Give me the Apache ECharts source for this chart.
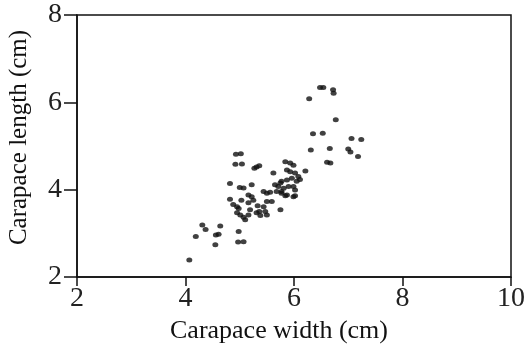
<!DOCTYPE html>
<html>
<head>
<meta charset="utf-8">
<script src="https://cdn.jsdelivr.net/npm/echarts@6/dist/echarts.min.js"></script>
<style>
  html, body { margin: 0; padding: 0; background: #fff; }
  #chart { width: 524px; height: 345px; }
</style>
</head>
<body>
<div id="chart"></div>
<script>
// carapace width / length pairs
const widths = [
  4.07, 4.19, 4.31, 4.37, 4.56, 4.61, 4.55, 4.64, 4.98, 4.97,
  5.07, 4.93, 5.02, 4.92, 5.04, 5.27, 5.31, 5.36, 4.82, 5.00,
  5.07, 5.22, 4.82, 4.88, 4.95, 4.98, 5.03, 5.16, 5.22, 4.95,
  5.01, 5.07, 5.10, 5.16, 5.25, 5.19, 5.16, 5.31, 5.36, 5.38,
  5.33, 5.44, 5.50, 5.56, 5.50, 5.59, 5.44, 5.47, 5.50, 5.75,
  5.62, 5.65, 5.75, 5.68, 5.77, 5.84, 5.93, 5.99, 5.87, 5.93,
  5.87, 5.96, 5.81, 5.90, 5.87, 5.99, 6.02, 6.08, 6.11, 6.05,
  6.21, 5.71, 5.99, 6.02, 5.77, 5.84, 6.02, 5.77, 6.28, 6.48,
  6.54, 6.72, 6.73, 6.77, 6.35, 6.53, 6.31, 6.66, 6.61, 6.67,
  7.06, 7.24, 7.00, 7.04, 7.18
]
const lengths = [
  2.39, 2.93, 3.19, 3.09, 2.96, 2.98, 2.74, 3.17, 3.04, 2.80,
  2.81, 4.81, 4.82, 4.58, 4.59, 4.49, 4.52, 4.55, 4.14, 4.05,
  4.04, 4.11, 3.78, 3.66, 3.61, 3.57, 3.76, 3.88, 3.84, 3.47,
  3.42, 3.37, 3.31, 3.70, 3.76, 3.54, 3.42, 3.47, 3.50, 3.41,
  3.63, 3.96, 3.92, 3.94, 3.73, 3.73, 3.61, 3.50, 3.42, 3.54,
  4.38, 4.11, 4.15, 3.96, 3.96, 4.64, 4.61, 4.56, 4.45, 4.41,
  4.22, 4.26, 4.03, 4.07, 3.88, 3.84, 4.38, 4.30, 4.23, 4.19,
  4.43, 4.07, 4.07, 3.99, 3.92, 3.86, 3.86, 4.19, 6.08, 6.34,
  6.34, 6.29, 6.21, 5.60, 5.28, 5.29, 4.91, 4.94, 4.63, 4.61,
  5.17, 5.15, 4.93, 4.86, 4.76
]
const xTicks = [2, 4, 6, 8, 10]
const yTicks = [2, 4, 6, 8]

const points = widths.map((w, i) => [w, lengths[i]])
const serif = '"Liberation Serif", "DejaVu Serif", serif'

const myChart = echarts.init(document.getElementById('chart'))
const option = {
  animation: false,
  grid: {
    left: 77,
    right: 13,
    top: 15,
    bottom: 68,
    outerBoundsMode: 'none',
    show: true,
    borderColor: '#111',
    borderWidth: 1.5,
  },
  xAxis: {
    type: 'value',
    min: xTicks[0],
    max: xTicks[xTicks.length - 1],
    interval: 2,
    name: 'Carapace width (cm)',
    nameLocation: 'middle',
    nameGap: 41,
    nameTextStyle: {
      fontFamily: serif,
      fontSize: 26,
      color: '#111',
      padding: [0, 30, 0, 0],
    },
    splitLine: { show: false },
    axisLine: { lineStyle: { color: '#111', width: 1.5 } },
    axisTick: { inside: false, length: 9, lineStyle: { color: '#111', width: 1.5 } },
    axisLabel: { fontFamily: serif, fontSize: 28, color: '#222', margin: 8 },
  },
  yAxis: {
    type: 'value',
    min: yTicks[0],
    max: yTicks[yTicks.length - 1],
    interval: 2,
    name: 'Carapace length (cm)',
    nameLocation: 'middle',
    nameGap: 45,
    nameTextStyle: {
      fontFamily: serif,
      fontSize: 25,
      color: '#111',
      padding: [0, 0, 0, 17],
    },
    splitLine: { show: false },
    axisLine: { lineStyle: { color: '#111', width: 1.5 } },
    axisTick: { inside: false, length: 13, lineStyle: { color: '#111', width: 1.5 } },
    axisLabel: { fontFamily: serif, fontSize: 28, color: '#222', margin: 15 },
  },
  series: [
    {
      type: 'scatter',
      data: points,
      symbol: 'circle',
      symbolSize: [6, 5],
      itemStyle: { color: '#111' },
    },
  ],
}
myChart.setOption(option)
</script>
</body>
</html>
